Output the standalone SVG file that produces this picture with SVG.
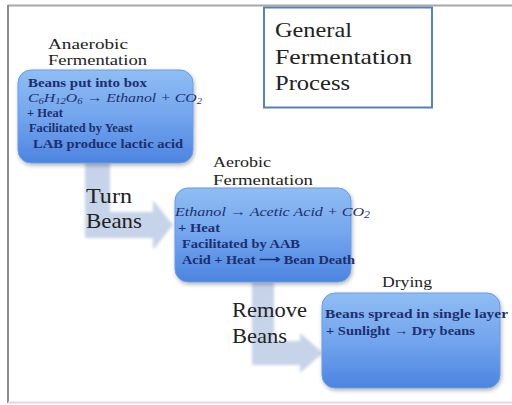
<svg xmlns="http://www.w3.org/2000/svg" width="512" height="405" viewBox="0 0 512 405">
<style>
svg text, svg tspan{font-family:'Liberation Serif',serif !important;}
.lbl{fill:#222;}
.hd{font-size:15.5px;}
.big{font-size:22px;}
.bt{font-size:13.5px;fill:#1c2f6e;font-weight:bold;}
.it{font-style:italic;font-weight:normal;}
.box{fill:url(#bg);stroke:#6a9be6;stroke-width:1;}
.arr{fill:#c6d3e8;}
</style>
<defs>
<linearGradient id="bg" x1="0" y1="0" x2="0" y2="1">
<stop offset="0" stop-color="#8fbdf3"/>
<stop offset="0.5" stop-color="#73a5ee"/>
<stop offset="1" stop-color="#4c84e0"/>
</linearGradient>
<filter id="sh" x="-10%" y="-10%" width="130%" height="130%">
<feGaussianBlur in="SourceAlpha" stdDeviation="2"/>
<feOffset dx="1" dy="2"/>
<feComponentTransfer><feFuncA type="linear" slope="0.3"/></feComponentTransfer>
<feMerge><feMergeNode/><feMergeNode in="SourceGraphic"/></feMerge>
</filter>
<filter id="soft" x="-10%" y="-10%" width="120%" height="120%"><feGaussianBlur stdDeviation="1.5"/></filter>
</defs>
<rect x="0" y="0" width="512" height="405" fill="#fff"/>
<line x1="8" y1="5.5" x2="512" y2="5.5" stroke="#a8a8a8" stroke-width="2"/>
<line x1="8" y1="5" x2="8" y2="403" stroke="#8a8a8a" stroke-width="2"/>
<line x1="8" y1="402.5" x2="512" y2="402.5" stroke="#dcdcdc" stroke-width="2"/>

<g id="connectors">
<path class="arr" filter="url(#soft)" d="M85 162 H110 V212 H153 V200 L173 225 L153 250 V238 H85 Z"/>
<path class="arr" filter="url(#soft)" d="M252 282 H274 V341 H300 V333 L323 353 L300 373 V365 H252 Z"/>
</g>

<g id="title">
<rect x="264" y="7.5" width="168" height="100" fill="#fff" stroke="#5a80b8" stroke-width="2"/>
<text class="lbl big" style="font-family:'Liberation Serif',serif" x="275" y="37" textLength="77" lengthAdjust="spacingAndGlyphs">General</text>
<text class="lbl big" style="font-family:'Liberation Serif',serif" x="275" y="64" textLength="137" lengthAdjust="spacingAndGlyphs">Fermentation</text>
<text class="lbl big" style="font-family:'Liberation Serif',serif" x="275" y="90" textLength="75" lengthAdjust="spacingAndGlyphs">Process</text>
</g>

<g id="anaerobic">
<text class="lbl hd" style="font-family:'Liberation Serif',serif" x="48" y="49" textLength="80" lengthAdjust="spacingAndGlyphs">Anaerobic</text>
<text class="lbl hd" style="font-family:'Liberation Serif',serif" x="48" y="65" textLength="99" lengthAdjust="spacingAndGlyphs">Fermentation</text>
<rect class="box" filter="url(#sh)" x="18" y="70" width="175" height="93" rx="13"/>
<text class="bt" style="font-family:'Liberation Serif',serif" x="28" y="87" textLength="119" lengthAdjust="spacingAndGlyphs">Beans put into box</text>
<text class="bt it" style="font-family:'Liberation Serif',serif" x="28" y="102" textLength="174" lengthAdjust="spacingAndGlyphs">C<tspan font-size="9" dy="2">6</tspan><tspan dy="-2">H</tspan><tspan font-size="9" dy="2">12</tspan><tspan dy="-2">O</tspan><tspan font-size="9" dy="2">6</tspan><tspan dy="-2"> → Ethanol + CO</tspan><tspan font-size="9" dy="2">2</tspan></text>
<text class="bt" style="font-family:'Liberation Serif',serif;font-size:12.5px" x="27" y="117">+ Heat</text>
<text class="bt" style="font-family:'Liberation Serif',serif" x="29" y="132" textLength="104" lengthAdjust="spacingAndGlyphs">Facilitated by Yeast</text>
<text class="bt" style="font-family:'Liberation Serif',serif" x="33" y="148" textLength="150" lengthAdjust="spacingAndGlyphs">LAB produce lactic acid</text>
</g>

<g id="turn">
<text class="lbl big" style="font-family:'Liberation Serif',serif" x="86" y="203" textLength="46" lengthAdjust="spacingAndGlyphs">Turn</text>
<text class="lbl big" style="font-family:'Liberation Serif',serif" x="86" y="228" textLength="56" lengthAdjust="spacingAndGlyphs">Beans</text>
</g>

<g id="aerobic">
<text class="lbl hd" style="font-family:'Liberation Serif',serif" x="213" y="167" textLength="58" lengthAdjust="spacingAndGlyphs">Aerobic</text>
<text class="lbl hd" style="font-family:'Liberation Serif',serif" x="213" y="185" textLength="100" lengthAdjust="spacingAndGlyphs">Fermentation</text>
<rect class="box" filter="url(#sh)" x="175" y="188" width="176" height="94" rx="13"/>
<text class="bt it" style="font-family:'Liberation Serif',serif" x="175" y="216" textLength="195" lengthAdjust="spacingAndGlyphs" font-size="15">Ethanol → Acetic Acid + CO<tspan font-size="10" dy="2">2</tspan></text>
<text class="bt" style="font-family:'Liberation Serif',serif" x="178" y="232" textLength="42" lengthAdjust="spacingAndGlyphs" font-size="15">+ Heat</text>
<text class="bt" style="font-family:'Liberation Serif',serif" x="182" y="248" textLength="118" lengthAdjust="spacingAndGlyphs" font-size="15">Facilitated by AAB</text>
<text class="bt" style="font-family:'Liberation Serif',serif" x="182" y="264" textLength="173" lengthAdjust="spacingAndGlyphs" font-size="15">Acid + Heat ⟶ Bean Death</text>
</g>

<g id="remove">
<text class="lbl big" style="font-family:'Liberation Serif',serif" x="232" y="317" textLength="75" lengthAdjust="spacingAndGlyphs">Remove</text>
<text class="lbl big" style="font-family:'Liberation Serif',serif" x="232" y="343" textLength="55" lengthAdjust="spacingAndGlyphs">Beans</text>
</g>

<g id="drying">
<text class="lbl hd" style="font-family:'Liberation Serif',serif" x="382" y="287" textLength="50" lengthAdjust="spacingAndGlyphs">Drying</text>
<rect class="box" filter="url(#sh)" x="322" y="293" width="178" height="95" rx="13"/>
<text class="bt" style="font-family:'Liberation Serif',serif" x="325" y="318" textLength="183" lengthAdjust="spacingAndGlyphs" font-size="15">Beans spread in single layer</text>
<text class="bt" style="font-family:'Liberation Serif',serif" x="326" y="335" textLength="149" lengthAdjust="spacingAndGlyphs" font-size="15">+ Sunlight → Dry beans</text>
</g>
</svg>
